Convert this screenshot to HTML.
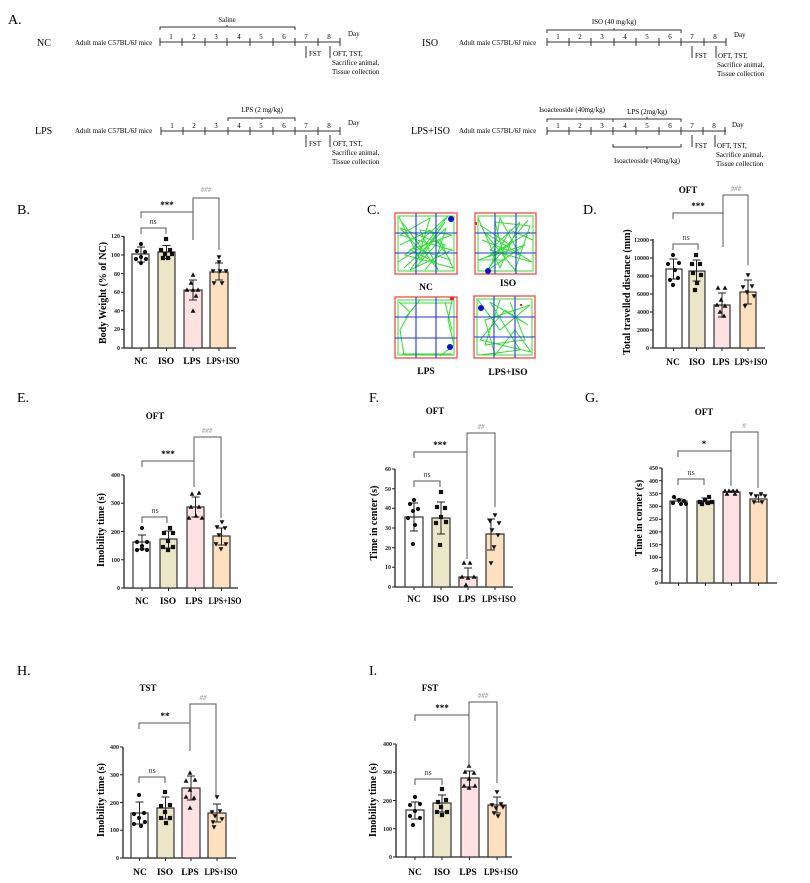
<!DOCTYPE html>
<html><head><meta charset="utf-8"><style>
html,body{margin:0;padding:0;background:#fff;}
svg{display:block;font-family:"Liberation Serif",serif;}
.tl{stroke:#333;stroke-width:1;fill:none}
.ax{stroke:#222;stroke-width:1.3;fill:none}
.bar{stroke:#333;stroke-width:1.2}
.er{stroke:#222;stroke-width:1;fill:none}
.br{stroke:#555;stroke-width:1;fill:none}
.tk{font-size:6px;text-anchor:end;font-weight:bold;fill:#222}
.xl{font-size:9.5px;font-weight:bold;text-anchor:middle}
.yl{font-size:10px;font-weight:bold;text-anchor:middle}
.tt{font-size:9px;font-weight:bold;text-anchor:middle}
.st{font-size:9px;font-weight:bold;text-anchor:middle}
.gs{font-size:7px;fill:#888;text-anchor:middle;font-style:italic}
.ns{font-size:8px;fill:#444;text-anchor:middle}
.pl{font-size:14px}
.a{font-size:7px}
.grp{font-size:10px}
.trk{stroke:#33dd33;stroke-width:1;fill:none}
.grd{stroke:#2233ee;stroke-width:1.1}
</style></head><body>
<svg width="810" height="883" viewBox="0 0 810 883" xmlns="http://www.w3.org/2000/svg">
<defs>
<circle id="c" r="2.1" fill="#111"/>
<rect id="s" x="-2.1" y="-2.1" width="4.2" height="4.2" fill="#111"/>
<path id="t" d="M0,-2.6 L2.4,1.8 L-2.4,1.8Z" fill="#111"/>
<path id="v" d="M0,2.6 L2.4,-1.8 L-2.4,-1.8Z" fill="#111"/>
</defs>

<!-- Panel A -->
<text x="8" y="24" class="pl">A.</text>
<text x="37" y="46" class="grp">NC</text>
<text x="75" y="45" class="a">Adult male C57BL/6J mice</text>
<g class="tl"><line x1="160" y1="42" x2="340" y2="42"/>
<path d="M160,38v8M182,38v8M205,38v8M227,38v8M250,38v8M273,38v8M295,38v8M318,38v8M340,38v8"/>
<path d="M160,30v-3h135v3M227,27v-2"/>
<path d="M306,46v12M330,46v12"/></g>
<g class="a" text-anchor="middle"><text x="171" y="39">1</text><text x="194" y="39">2</text><text x="216" y="39">3</text><text x="239" y="39">4</text><text x="261" y="39">5</text><text x="284" y="39">6</text><text x="306" y="39">7</text><text x="329" y="39">8</text><text x="227" y="22">Saline</text></g>
<text x="348" y="36" class="a">Day</text>
<text x="309" y="56" class="a">FST</text>
<text x="333" y="56" class="a">OFT, TST,</text><text x="332" y="65" class="a">Sacrifice animal,</text><text x="332" y="74" class="a">Tissue collection</text>
<text x="35" y="134" class="grp">LPS</text>
<text x="75" y="133" class="a">Adult male C57BL/6J mice</text>
<g class="tl"><line x1="161" y1="131" x2="340" y2="131"/>
<path d="M161,127v8M183,127v8M205,127v8M228,127v8M250,127v8M273,127v8M295,127v8M318,127v8M340,127v8"/>
<path d="M228,121v-3h67v3M262,118v2"/>
<path d="M306,135v12M330,135v12"/></g>
<g class="a" text-anchor="middle"><text x="172" y="128">1</text><text x="194" y="128">2</text><text x="216" y="128">3</text><text x="239" y="128">4</text><text x="261" y="128">5</text><text x="284" y="128">6</text><text x="306" y="128">7</text><text x="329" y="128">8</text><text x="262" y="112">LPS (2 mg/kg)</text></g>
<text x="348" y="125" class="a">Day</text>
<text x="309" y="146" class="a">FST</text>
<text x="333" y="146" class="a">OFT, TST,</text><text x="332" y="155" class="a">Sacrifice animal,</text><text x="332" y="164" class="a">Tissue collection</text>
<text x="422" y="46" class="grp">ISO</text>
<text x="459" y="45" class="a">Adult male C57BL/6J mice</text>
<g class="tl"><line x1="547" y1="42" x2="726" y2="42"/>
<path d="M547,38v8M569,38v8M591,38v8M614,38v8M636,38v8M659,38v8M681,38v8M704,38v8M726,38v8"/>
<path d="M547,33v-3h134v3M614,30v-2"/>
<path d="M692,46v12M716,46v12"/></g>
<g class="a" text-anchor="middle"><text x="558" y="39">1</text><text x="580" y="39">2</text><text x="602" y="39">3</text><text x="625" y="39">4</text><text x="647" y="39">5</text><text x="670" y="39">6</text><text x="692" y="39">7</text><text x="715" y="39">8</text><text x="614" y="24">ISO (40 mg/kg)</text></g>
<text x="734" y="37" class="a">Day</text>
<text x="695" y="58" class="a">FST</text>
<text x="718" y="58" class="a">OFT, TST,</text><text x="717" y="67" class="a">Sacrifice animal,</text><text x="717" y="76" class="a">Tissue collection</text>
<text x="411" y="134" class="grp">LPS+ISO</text>
<text x="459" y="133" class="a">Adult male C57BL/6J mice</text>
<g class="tl"><line x1="547" y1="131" x2="726" y2="131"/>
<path d="M547,127v8M569,127v8M591,127v8M613,127v8M636,127v8M659,127v8M681,127v8M703,127v8M725,127v8"/>
<path d="M547,122v-3h66M613,122v-3h68v3M647,119v-2"/>
<path d="M613,144v3h68v-3M647,147v2"/>
<path d="M692,135v12M715,135v12"/></g>
<g class="a" text-anchor="middle"><text x="558" y="128">1</text><text x="580" y="128">2</text><text x="602" y="128">3</text><text x="625" y="128">4</text><text x="647" y="128">5</text><text x="670" y="128">6</text><text x="692" y="128">7</text><text x="714" y="128">8</text>
<text x="572" y="112">Isoacteoside (40mg/kg)</text><text x="647" y="114">LPS (2mg/kg)</text><text x="647" y="163">Isoacteoside (40mg/kg)</text></g>
<text x="732" y="127" class="a">Day</text>
<text x="695" y="148" class="a">FST</text>
<text x="717" y="148" class="a">OFT, TST,</text><text x="716" y="157" class="a">Sacrifice animal,</text><text x="716" y="166" class="a">Tissue collection</text>

<text x="17" y="214" class="pl">B.</text>
<text x="367" y="214" class="pl">C.</text>
<text x="583" y="214" class="pl">D.</text>
<text x="17" y="402" class="pl">E.</text>
<text x="369" y="402" class="pl">F.</text>
<text x="585" y="402" class="pl">G.</text>
<text x="17" y="675" class="pl">H.</text>
<text x="369" y="675" class="pl">I.</text>

<!-- Panel B -->
<g>
<text transform="translate(106,293) rotate(-90)" class="yl">Body Weight (% of NC)</text>
<path class="ax" d="M124,236V348H236"/>
<path class="er" d="M121,348h3M121,329.4h3M121,310.8h3M121,292.2h3M121,273.6h3M121,255h3M121,236.4h3M141,348v3M166.5,348v3M193,348v3M219,348v3"/>
<g class="tk"><text x="120" y="350">0</text><text x="120" y="331">20</text><text x="120" y="313">40</text><text x="120" y="294">60</text><text x="120" y="276">80</text><text x="120" y="257">100</text><text x="120" y="238">120</text></g>
<rect class="bar" x="132" y="254" width="17" height="94" fill="#fff"/>
<rect class="bar" x="158" y="252" width="17" height="96" fill="#ebe6c8"/>
<rect class="bar" x="184" y="290" width="18" height="58" fill="#fde1e3"/>
<rect class="bar" x="210" y="272" width="18" height="76" fill="#fde0c0"/>
<path class="er" d="M141,247v15M137,247h8M137,262h8M166.5,245.5v13M162.5,245.5h8M162.5,258.5h8M193,280v20M189,280h8M189,300h8M219,263v17M215,263h8M215,280h8"/>
<use href="#c" x="141" y="244"/><use href="#c" x="137" y="251"/><use href="#c" x="145" y="252"/><use href="#c" x="141" y="257"/><use href="#c" x="136" y="259"/><use href="#c" x="146" y="259"/><use href="#c" x="141" y="263"/>
<use href="#s" x="166" y="239"/><use href="#s" x="161" y="250"/><use href="#s" x="170" y="250"/><use href="#s" x="165" y="254"/><use href="#s" x="172" y="254"/><use href="#s" x="163" y="258"/><use href="#s" x="168" y="258"/>
<use href="#t" x="193" y="275"/><use href="#t" x="191" y="283"/><use href="#t" x="187" y="290"/><use href="#t" x="193" y="290"/><use href="#t" x="198" y="290"/><use href="#t" x="196" y="296"/><use href="#t" x="193" y="311"/>
<use href="#v" x="219" y="257"/><use href="#v" x="219" y="262"/><use href="#v" x="213" y="271"/><use href="#v" x="220" y="271"/><use href="#v" x="226" y="271"/><use href="#v" x="214" y="283"/><use href="#v" x="222" y="283"/>
<path class="br" d="M141,218v-6h52v28"/><text x="167" y="208" class="st">***</text>
<path class="br" d="M141,234v-6h25v6"/><text x="153" y="224" class="ns">ns</text>
<path class="br" d="M193,212v-14h26v52"/><text x="206" y="192" class="gs">###</text>
<g class="xl"><text x="141" y="364">NC</text><text x="166" y="364">ISO</text><text x="192" y="364">LPS</text><text x="223" y="364" textLength="33" lengthAdjust="spacingAndGlyphs">LPS+ISO</text></g>
</g>

<!-- Panel C -->
<g>
<g fill="#fff" stroke="#f44" stroke-width="1.3">
<rect x="395" y="213" width="62" height="61"/><rect x="475" y="213" width="61" height="61"/>
<rect x="395" y="297" width="62" height="61"/><rect x="474" y="296" width="61" height="62"/></g>
<rect x="398" y="216" width="56" height="55" class="trk" stroke-width="3"/>
<path class="trk" d="M399,217L420,260L445,222L410,270L452,250L400,235L430,218L415,268L440,240L453,268L405,255L448,216L425,245L398,262M402,222L438,270L420,230L452,235L410,250L435,262L446,228L404,268M400,245L430,230L450,260L420,250L400,228L445,245L425,270"/>
<rect x="478" y="216" width="55" height="55" class="trk" stroke-width="3"/>
<path class="trk" d="M478,218L500,268L520,222L490,250L532,262L484,232L515,270L530,226L495,222L505,260L478,260L525,245L488,270L510,230L533,240M482,240L520,255L500,218L492,264L528,220M480,225L510,245L485,258L530,232"/>
<rect x="398" y="300" width="56" height="55" class="trk" stroke-width="2"/>
<path class="trk" d="M399,302L410,312L400,330L404,355M452,300L448,320L454,345L440,356M400,303L452,303M402,354L452,354M420,300L405,318M452,330L445,302"/>
<rect x="477" y="299" width="55" height="56" class="trk" stroke-width="2"/>
<path class="trk" d="M478,300L500,330L530,305L485,320L495,355L515,330L531,352L480,340L505,310L528,325L490,302L520,350L480,355M500,300L485,345L525,340L510,302"/>
<g class="grd"><path d="M416,213v61M436,213v61M395,233h62M395,253h62M495,213v61M516,213v61M475,233h61M475,253h61M416,297v61M436,297v61M395,317h62M395,338h62M494,296v62M515,296v62M474,317h61M474,337h61"/></g>
<g fill="#11c"><circle cx="451" cy="219" r="3"/><circle cx="488" cy="271" r="3"/><circle cx="450" cy="347" r="3"/><circle cx="481" cy="308" r="3"/></g>
<g fill="#e22"><rect x="450" y="297" width="4" height="3"/><rect x="475" y="222" width="2" height="3"/><rect x="520" y="304" width="2" height="2"/></g>
<g class="xl"><text x="426" y="290">NC</text><text x="508" y="286">ISO</text><text x="426" y="374">LPS</text><text x="508" y="375">LPS+ISO</text></g>
</g>

<!-- Panel D -->
<g>
<text x="688" y="193" class="tt">OFT</text>
<text transform="translate(630,292) rotate(-90)" class="yl">Total travelled distance (mm)</text>
<path class="ax" d="M653,239V348H765"/>
<path class="er" d="M650,348h3M650,330h3M650,312h3M650,294h3M650,276h3M650,258h3M650,240h3M673.5,348v3M696.5,348v3M722,348v3M748,348v3"/>
<g class="tk"><text x="649" y="350">0</text><text x="649" y="332">2000</text><text x="649" y="314">4000</text><text x="649" y="296">6000</text><text x="649" y="278">8000</text><text x="649" y="260">10000</text><text x="649" y="242">12000</text></g>
<rect class="bar" x="666" y="269" width="16" height="79" fill="#fff"/>
<rect class="bar" x="689" y="271" width="16" height="77" fill="#ebe6c8"/>
<rect class="bar" x="714" y="305" width="16" height="43" fill="#fde1e3"/>
<rect class="bar" x="740" y="292" width="16" height="56" fill="#fde0c0"/>
<path class="er" d="M673.5,259v20M669.5,259h8M669.5,279h8M696.5,260v21M692.5,260h8M692.5,281h8M722,293v24M718,293h8M718,317h8M748,280v24M744,280h8M744,304h8"/>
<use href="#c" x="673" y="255"/><use href="#c" x="668" y="264"/><use href="#c" x="679" y="263"/><use href="#c" x="675" y="270"/><use href="#c" x="670" y="280"/><use href="#c" x="678" y="278"/><use href="#c" x="673" y="285"/>
<use href="#s" x="696" y="255"/><use href="#s" x="692" y="264"/><use href="#s" x="700" y="264"/><use href="#s" x="693" y="273"/><use href="#s" x="701" y="275"/><use href="#s" x="697" y="283"/><use href="#s" x="695" y="290"/>
<use href="#t" x="718" y="288"/><use href="#t" x="725" y="288"/><use href="#t" x="721" y="300"/><use href="#t" x="717" y="305"/><use href="#t" x="725" y="306"/><use href="#t" x="720" y="312"/><use href="#t" x="724" y="316"/>
<use href="#v" x="748" y="275"/><use href="#v" x="743" y="287"/><use href="#v" x="752" y="286"/><use href="#v" x="747" y="292"/><use href="#v" x="754" y="296"/><use href="#v" x="745" y="306"/>
<path class="br" d="M673,219v-6h50v34"/><text x="698" y="209" class="st">***</text>
<path class="br" d="M673,250v-6h25v6"/><text x="686" y="240" class="ns">ns</text>
<path class="br" d="M723,213v-18h25v70"/><text x="736" y="191" class="gs">###</text>
<g class="xl"><text x="673" y="365">NC</text><text x="697" y="365">ISO</text><text x="721" y="365">LPS</text><text x="751" y="365" textLength="33" lengthAdjust="spacingAndGlyphs">LPS+ISO</text></g>
</g>

<!-- Panel E -->
<g>
<text x="155" y="419" class="tt">OFT</text>
<text transform="translate(104,530) rotate(-90)" class="yl">Imobility time (s)</text>
<path class="ax" d="M124,475V588H238"/>
<path class="er" d="M121,588h3M121,559.8h3M121,531.5h3M121,503.2h3M121,475h3M142,588v3M168.5,588v3M195.5,588v3M221.5,588v3"/>
<g class="tk"><text x="120" y="590">0</text><text x="120" y="562">100</text><text x="120" y="534">200</text><text x="120" y="505">300</text><text x="120" y="477">400</text></g>
<rect class="bar" x="133" y="542" width="17" height="46" fill="#fff"/>
<rect class="bar" x="160" y="539" width="17" height="49" fill="#ebe6c8"/>
<rect class="bar" x="187" y="507" width="17" height="81" fill="#fde1e3"/>
<rect class="bar" x="213" y="536" width="17" height="52" fill="#fde0c0"/>
<path class="er" d="M142,535v14M138,535h8M138,549h8M168.5,531v17M164.5,531h8M164.5,548h8M195.5,497v20M191.5,497h8M191.5,517h8M221.5,528v17M217.5,528h8M217.5,545h8"/>
<use href="#c" x="142" y="528"/><use href="#c" x="137" y="542"/><use href="#c" x="147" y="542"/><use href="#c" x="142" y="546"/><use href="#c" x="137" y="550"/><use href="#c" x="147" y="550"/><use href="#c" x="142" y="549"/>
<use href="#s" x="170" y="528"/><use href="#s" x="164" y="533"/><use href="#s" x="173" y="533"/><use href="#s" x="168" y="541"/><use href="#s" x="163" y="547"/><use href="#s" x="173" y="547"/><use href="#s" x="168" y="550"/>
<use href="#t" x="192" y="494"/><use href="#t" x="199" y="493"/><use href="#t" x="191" y="507"/><use href="#t" x="199" y="507"/><use href="#t" x="189" y="518"/><use href="#t" x="196" y="516"/><use href="#t" x="202" y="518"/>
<use href="#v" x="222" y="522"/><use href="#v" x="217" y="527"/><use href="#v" x="225" y="528"/><use href="#v" x="219" y="535"/><use href="#v" x="216" y="544"/><use href="#v" x="226" y="544"/><use href="#v" x="221" y="549"/>
<path class="br" d="M142,467v-6h52v26"/><text x="168" y="457" class="st">***</text>
<path class="br" d="M142,523v-6h25v6"/><text x="155" y="513" class="ns">ns</text>
<path class="br" d="M194,461v-24h27v81"/><text x="207" y="433" class="gs">###</text>
<g class="xl"><text x="142" y="604">NC</text><text x="168" y="604">ISO</text><text x="194" y="604">LPS</text><text x="225" y="604" textLength="33" lengthAdjust="spacingAndGlyphs">LPS+ISO</text></g>
</g>

<!-- Panel F -->
<g>
<text x="435" y="414" class="tt">OFT</text>
<text transform="translate(377,523) rotate(-90)" class="yl">Time in center (s)</text>
<path class="ax" d="M395,469V587H513"/>
<path class="er" d="M392,587h3M392,567.3h3M392,547.7h3M392,528h3M392,508.3h3M392,488.7h3M392,469h3M414,587v3M441,587v3M468,587v3M495,587v3"/>
<g class="tk"><text x="391" y="589">0</text><text x="391" y="569">10</text><text x="391" y="550">20</text><text x="391" y="530">30</text><text x="391" y="510">40</text><text x="391" y="491">50</text><text x="391" y="471">60</text></g>
<rect class="bar" x="405" y="517" width="18" height="70" fill="#fff"/>
<rect class="bar" x="432" y="518" width="18" height="69" fill="#ebe6c8"/>
<rect class="bar" x="459" y="577" width="18" height="10" fill="#fde1e3"/>
<rect class="bar" x="486" y="534" width="18" height="53" fill="#fde0c0"/>
<path class="er" d="M414,503v28M410,503h8M410,531h8M441,502v32M437,502h8M437,534h8M468,568v9M464,568h8M491,519v31M487,519h8M487,550h8"/>
<use href="#c" x="414" y="500"/><use href="#c" x="410" y="504"/><use href="#c" x="418" y="509"/><use href="#c" x="413" y="511"/><use href="#c" x="408" y="518"/><use href="#c" x="415" y="525"/><use href="#c" x="413" y="544"/>
<use href="#s" x="441" y="492"/><use href="#s" x="437" y="507"/><use href="#s" x="445" y="508"/><use href="#s" x="441" y="517"/><use href="#s" x="436" y="523"/><use href="#s" x="446" y="522"/><use href="#s" x="440" y="545"/>
<use href="#t" x="464" y="563"/><use href="#t" x="470" y="563"/><use href="#t" x="462" y="577"/><use href="#t" x="468" y="578"/><use href="#t" x="474" y="577"/><use href="#t" x="466" y="585"/>
<use href="#v" x="495" y="515"/><use href="#v" x="490" y="521"/><use href="#v" x="499" y="523"/><use href="#v" x="492" y="530"/><use href="#v" x="498" y="535"/><use href="#v" x="494" y="547"/><use href="#v" x="491" y="563"/>
<path class="br" d="M414,458v-6h53v107"/><text x="440" y="448" class="st">***</text>
<path class="br" d="M414,487v-6h26v6"/><text x="427" y="477" class="ns">ns</text>
<path class="br" d="M467,452v-19h28v74"/><text x="481" y="429" class="gs">##</text>
<g class="xl"><text x="414" y="602">NC</text><text x="441" y="602">ISO</text><text x="467" y="602">LPS</text><text x="499" y="602" textLength="34" lengthAdjust="spacingAndGlyphs">LPS+ISO</text></g>
</g>

<!-- Panel G -->
<g>
<text x="704" y="415" class="tt">OFT</text>
<text transform="translate(642,518) rotate(-90)" class="yl">Time in corner (s)</text>
<path class="ax" d="M662,468V583H777"/>
<path class="er" d="M659,583h3M659,570.2h3M659,557.4h3M659,544.7h3M659,531.9h3M659,519.2h3M659,506.4h3M659,493.6h3M659,480.8h3M659,468h3M678.5,583v3M705.5,583v3M731.5,583v3M758.5,583v3"/>
<g class="tk"><text x="658" y="585">0</text><text x="658" y="572">50</text><text x="658" y="559">100</text><text x="658" y="547">150</text><text x="658" y="534">200</text><text x="658" y="521">250</text><text x="658" y="508">300</text><text x="658" y="496">350</text><text x="658" y="483">400</text><text x="658" y="470">450</text></g>
<rect class="bar" x="670" y="501" width="17" height="82" fill="#fff"/>
<rect class="bar" x="697" y="501" width="17" height="82" fill="#ebe6c8"/>
<rect class="bar" x="723" y="492" width="17" height="91" fill="#fde1e3"/>
<rect class="bar" x="750" y="499" width="17" height="84" fill="#fde0c0"/>
<path class="er" d="M678.5,499v4M674.5,499h8M705.5,498v6M701.5,498h8M731.5,491v2M727.5,491h8M758.5,495v7M754.5,495h8M754.5,502h8"/>
<use href="#c" x="674" y="497"/><use href="#c" x="679" y="500"/><use href="#c" x="684" y="501"/><use href="#c" x="673" y="503"/><use href="#c" x="681" y="504"/><use href="#c" x="686" y="504"/>
<use href="#s" x="700" y="502"/><use href="#s" x="705" y="500"/><use href="#s" x="709" y="497"/><use href="#s" x="702" y="504"/><use href="#s" x="708" y="503"/><use href="#s" x="712" y="502"/>
<use href="#t" x="725" y="491"/><use href="#t" x="729" y="491"/><use href="#t" x="733" y="491"/><use href="#t" x="737" y="491"/><use href="#t" x="727" y="494"/><use href="#t" x="735" y="494"/>
<use href="#v" x="751" y="494"/><use href="#v" x="756" y="496"/><use href="#v" x="761" y="494"/><use href="#v" x="765" y="496"/><use href="#v" x="754" y="502"/><use href="#v" x="762" y="502"/>
<path class="br" d="M678,457v-6h53v35"/><text x="704" y="447" class="st">*</text>
<path class="br" d="M678,485v-6h26v6"/><text x="691" y="475" class="ns">ns</text>
<path class="br" d="M731,451v-19h27v56"/><text x="744" y="428" class="gs">#</text>
</g>

<!-- Panel H -->
<g>
<text x="148" y="691" class="tt">TST</text>
<text transform="translate(104,800) rotate(-90)" class="yl">Imobility time (s)</text>
<path class="ax" d="M123,747V858H236"/>
<path class="er" d="M120,858h3M120,830.3h3M120,802.5h3M120,774.8h3M120,747h3M139.5,858v3M165.5,858v3M191,858v3M217,858v3"/>
<g class="tk"><text x="119" y="860">0</text><text x="119" y="832">100</text><text x="119" y="805">200</text><text x="119" y="777">300</text><text x="119" y="749">400</text></g>
<rect class="bar" x="131" y="813" width="17" height="45" fill="#fff"/>
<rect class="bar" x="157" y="808" width="17" height="50" fill="#ebe6c8"/>
<rect class="bar" x="182" y="788" width="18" height="70" fill="#fde1e3"/>
<rect class="bar" x="208" y="813" width="18" height="45" fill="#fde0c0"/>
<path class="er" d="M139.5,802v22M135.5,802h8M135.5,824h8M165.5,797v22M161.5,797h8M161.5,819h8M191,776v24M187,776h8M187,800h8M217,804v18M213,804h8M213,822h8"/>
<use href="#c" x="139" y="795"/><use href="#c" x="134" y="814"/><use href="#c" x="144" y="813"/><use href="#c" x="139" y="818"/><use href="#c" x="145" y="822"/><use href="#c" x="134" y="824"/><use href="#c" x="141" y="826"/>
<use href="#s" x="165" y="792"/><use href="#s" x="161" y="806"/><use href="#s" x="170" y="805"/><use href="#s" x="165" y="812"/><use href="#s" x="161" y="818"/><use href="#s" x="170" y="818"/><use href="#s" x="166" y="823"/>
<use href="#t" x="190" y="773"/><use href="#t" x="186" y="781"/><use href="#t" x="195" y="780"/><use href="#t" x="190" y="790"/><use href="#t" x="186" y="797"/><use href="#t" x="194" y="798"/><use href="#t" x="190" y="808"/>
<use href="#v" x="217" y="797"/><use href="#v" x="212" y="812"/><use href="#v" x="220" y="811"/><use href="#v" x="215" y="816"/><use href="#v" x="222" y="819"/><use href="#v" x="213" y="822"/><use href="#v" x="214" y="827"/>
<path class="br" d="M139,729v-6h51v28"/><text x="165" y="719" class="st">**</text>
<path class="br" d="M139,783v-6h26v6"/><text x="152" y="773" class="ns">ns</text>
<path class="br" d="M190,723v-19h26v92"/><text x="203" y="700" class="gs">##</text>
<g class="xl"><text x="140" y="875">NC</text><text x="165" y="875">ISO</text><text x="190" y="875">LPS</text><text x="221" y="875" textLength="33" lengthAdjust="spacingAndGlyphs">LPS+ISO</text></g>
</g>

<!-- Panel I -->
<g>
<text x="430" y="691" class="tt">FST</text>
<text transform="translate(376,800) rotate(-90)" class="yl">Imobility time (s)</text>
<path class="ax" d="M396,744V857H512"/>
<path class="er" d="M393,857h3M393,828.8h3M393,800.5h3M393,772.3h3M393,744h3M415,857v3M442,857v3M469.5,857v3M497,857v3"/>
<g class="tk"><text x="392" y="859">0</text><text x="392" y="831">100</text><text x="392" y="803">200</text><text x="392" y="774">300</text><text x="392" y="746">400</text></g>
<rect class="bar" x="406" y="810" width="18" height="47" fill="#fff"/>
<rect class="bar" x="433" y="803" width="18" height="54" fill="#ebe6c8"/>
<rect class="bar" x="461" y="778" width="18" height="79" fill="#fde1e3"/>
<rect class="bar" x="488" y="805" width="18" height="52" fill="#fde0c0"/>
<path class="er" d="M415,802v17M411,802h8M411,819h8M442,795v17M438,795h8M438,812h8M469.5,771v16M465.5,771h8M465.5,787h8M497,797v16M493,797h8M493,813h8"/>
<use href="#c" x="415" y="797"/><use href="#c" x="410" y="805"/><use href="#c" x="420" y="804"/><use href="#c" x="415" y="811"/><use href="#c" x="410" y="816"/><use href="#c" x="420" y="818"/><use href="#c" x="413" y="825"/>
<use href="#s" x="442" y="789"/><use href="#s" x="438" y="802"/><use href="#s" x="446" y="800"/><use href="#s" x="441" y="807"/><use href="#s" x="437" y="812"/><use href="#s" x="447" y="812"/><use href="#s" x="442" y="815"/>
<use href="#t" x="469" y="766"/><use href="#t" x="465" y="772"/><use href="#t" x="474" y="773"/><use href="#t" x="469" y="779"/><use href="#t" x="464" y="786"/><use href="#t" x="475" y="786"/><use href="#t" x="469" y="788"/>
<use href="#v" x="497" y="792"/><use href="#v" x="492" y="805"/><use href="#v" x="501" y="804"/><use href="#v" x="496" y="808"/><use href="#v" x="503" y="807"/><use href="#v" x="494" y="813"/><use href="#v" x="498" y="816"/>
<path class="br" d="M415,721v-6h54v52"/><text x="442" y="711" class="st">***</text>
<path class="br" d="M415,785v-6h27v6"/><text x="428" y="775" class="ns">ns</text>
<path class="br" d="M469,715v-13h28v81"/><text x="483" y="698" class="gs">###</text>
<g class="xl"><text x="415" y="875">NC</text><text x="442" y="875">ISO</text><text x="468" y="875">LPS</text><text x="501" y="875" textLength="34" lengthAdjust="spacingAndGlyphs">LPS+ISO</text></g>
</g>
</svg>
</body></html>
